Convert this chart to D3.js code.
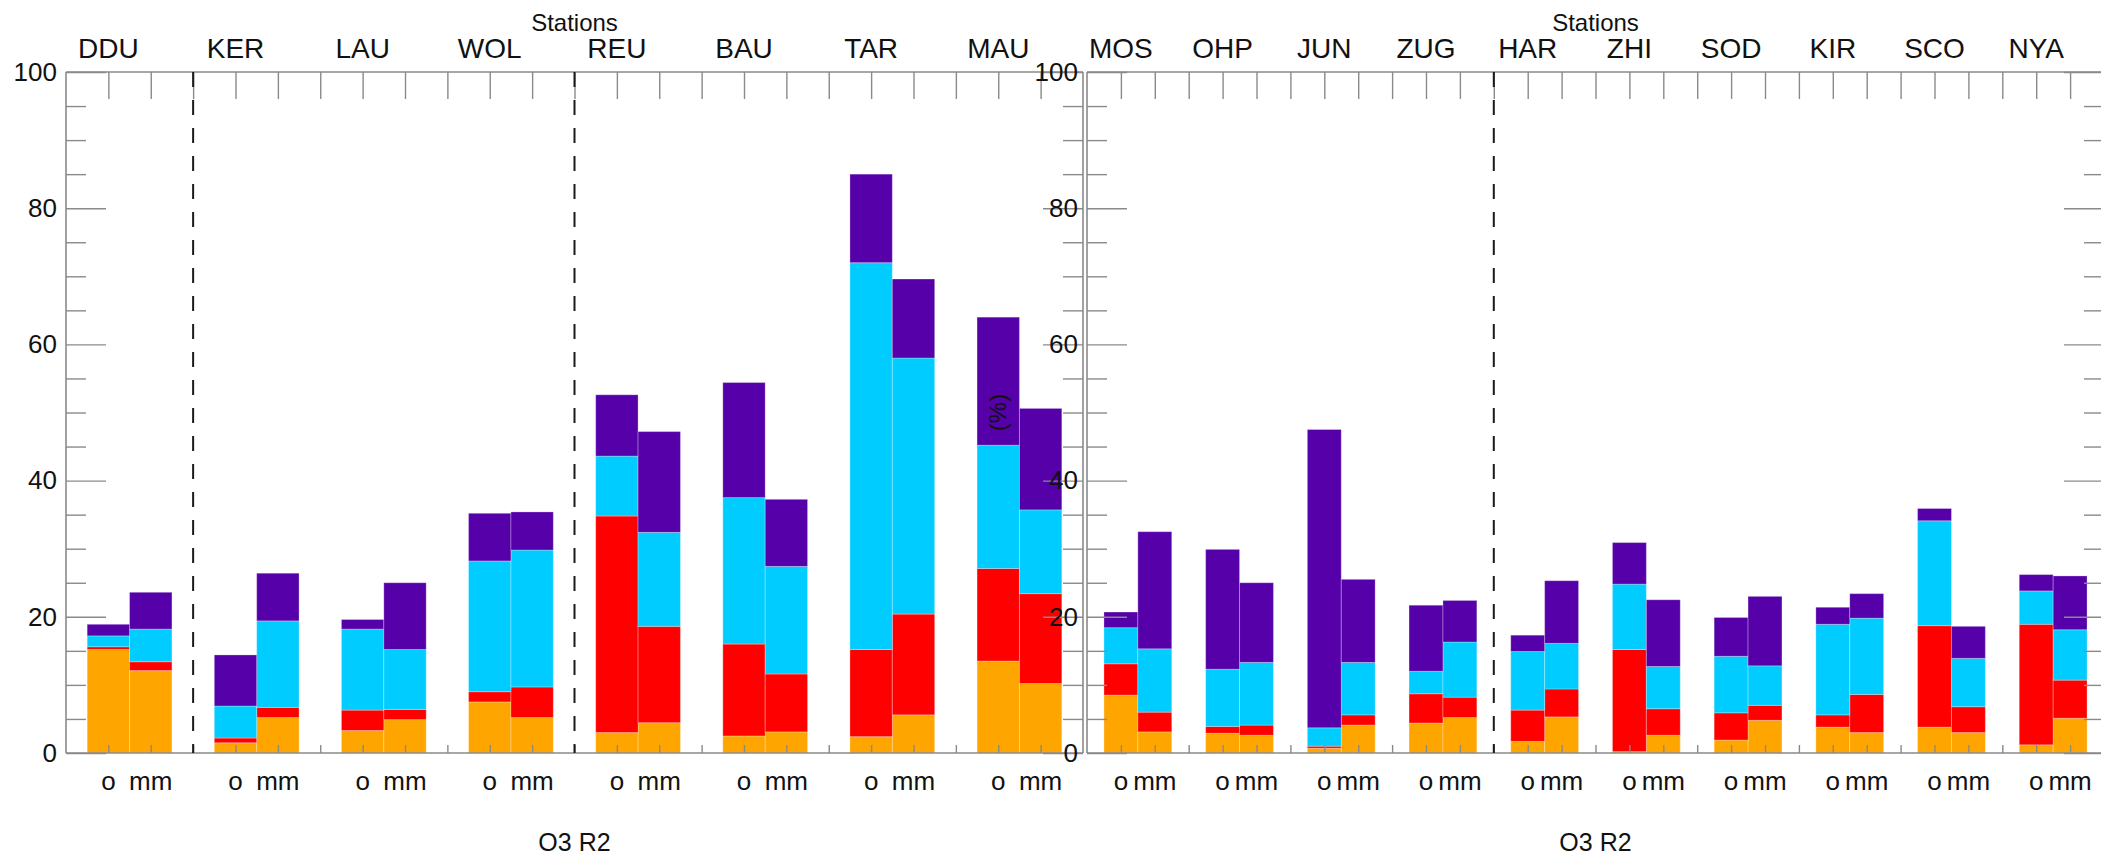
<!DOCTYPE html>
<html><head><meta charset="utf-8">
<script src="https://cdn.jsdelivr.net/npm/d3@7"></script>
<style>
body{margin:0;background:#fff}
svg{display:block}
text{font-family:"Liberation Sans",Arial,Helvetica,sans-serif;fill:#111}
</style>
</head><body>
<svg id="chart" width="2101" height="856"></svg>
<script>
// ---------------- data ----------------
const stationsLeft  = ["DDU","KER","LAU","WOL","REU","BAU","TAR","MAU"];
const stationsRight = ["MOS","OHP","JUN","ZUG","HAR","ZHI","SOD","KIR","SCO","NYA"];
const dashedBeforeLeft  = ["KER","REU"];
const dashedBeforeRight = ["HAR"];
const barKinds = ["o","mm"];
const yMajorTicks = [0,20,40,60,80,100];
const yMinorTicks = [5,10,15,25,30,35,45,50,55,65,70,75,85,90,95];
const topTitle = "Stations";
const bottomTitle = "O3 R2";
const yTitle = "(%)";
const componentKeys = ["orange","red","cyan","purple"];

// order: DDU KER LAU WOL REU BAU TAR MAU | MOS OHP JUN ZUG HAR ZHI SOD KIR SCO NYA
const orangeObs = [15.2, 1.5, 3.3, 7.5, 3.0, 2.5, 2.4,13.5,  8.5, 2.9, 0.7, 4.4, 1.7, 0.2, 1.9, 3.8, 3.8, 1.2];
const redObs    = [ 0.4, 0.7, 3.0, 1.5,31.8,13.5,12.8,13.6,  4.6, 1.0, 0.3, 4.3, 4.6,15.0, 4.0, 1.8,14.9,17.7];
const cyanObs   = [ 1.6, 4.7,11.9,19.2, 8.8,21.5,56.8,18.1,  5.3, 8.4, 2.7, 3.3, 8.6, 9.6, 8.3,13.3,15.4, 4.9];
const purpleObs = [ 1.7, 7.5, 1.4, 7.0, 9.0,16.9,13.0,18.8,  2.3,17.6,43.8, 9.7, 2.4, 6.1, 5.7, 2.5, 1.8, 2.4];

const orangeMod = [12.1, 5.2, 4.9, 5.2, 4.45,3.1, 5.6,10.2,  3.1, 2.6, 4.1, 5.2, 5.3, 2.6, 4.8, 3.0, 3.0, 5.1];
const redMod    = [ 1.3, 1.5, 1.5, 4.5,14.15,8.5,14.8,13.2,  2.9, 1.5, 1.5, 3.0, 4.1, 3.9, 2.2, 5.6, 3.8, 5.6];
const cyanMod   = [ 4.8,12.7, 8.8,20.1,13.8,15.8,37.6,12.3,  9.3, 9.2, 7.7, 8.1, 6.7, 6.2, 5.8,11.2, 7.1, 7.4];
const purpleMod = [ 5.4, 7.0, 9.8, 5.6,14.8,9.85,11.6,14.9, 17.2,11.7,12.2, 6.1, 9.2, 9.8,10.2, 3.6, 4.7, 7.9];

const colors = {orange:"#FFA500", red:"#FF0000", cyan:"#00CCFF", purple:"#5500A8"};

// ---------------- build rows ----------------
const allStations = stationsLeft.concat(stationsRight);
const rows = [];
allStations.forEach((s,i)=>{
  rows.push({station:s, kind:"o",  orange:orangeObs[i], red:redObs[i], cyan:cyanObs[i], purple:purpleObs[i]});
  rows.push({station:s, kind:"mm", orange:orangeMod[i], red:redMod[i], cyan:cyanMod[i], purple:purpleMod[i]});
});
const stacked = d3.stack().keys(componentKeys)(rows);

// ---------------- layout ----------------
const svg = d3.select("#chart");
const yTop = 72, yBot = 753;
const y = d3.scaleLinear().domain([0,100]).range([yBot,yTop]);
const axisColor = "#8a8a8a";

const panels = [
  {stations: stationsLeft,  x0: 66,   w: 1017, dashed: dashedBeforeLeft,  yTitleShown:false},
  {stations: stationsRight, x0: 1087, w: 1017, dashed: dashedBeforeRight, yTitleShown:true}
];

panels.forEach(p=>{
  const g = svg.append("g");
  const xs = d3.scaleBand().domain(p.stations).range([p.x0, p.x0+p.w]).padding(0);
  const xb = d3.scaleBand().domain(barKinds).range([0, xs.bandwidth()]).paddingInner(0).paddingOuter(0.5);
  const n = p.stations.length;
  const xt = d3.scaleLinear().domain([0, n*3]).range([p.x0, p.x0+p.w]);

  // bars
  stacked.forEach(layer=>{
    g.append("g").selectAll("rect")
      .data(layer.filter(d=>p.stations.includes(d.data.station)))
      .join("rect")
      .attr("x", d=>xs(d.data.station)+xb(d.data.kind))
      .attr("width", xb.bandwidth())
      .attr("y", d=>y(d[1]))
      .attr("height", d=>Math.max(0, y(d[0])-y(d[1])))
      .attr("fill", colors[layer.key])
      .attr("stroke","rgba(255,255,255,0.28)")
      .attr("stroke-width",1);
  });

  // frame lines
  const frame = g.append("g").attr("stroke",axisColor).attr("stroke-width",1.6).attr("fill","none");
  frame.append("line").attr("x1",p.x0).attr("x2",p.x0+p.w).attr("y1",yTop).attr("y2",yTop);
  frame.append("line").attr("x1",p.x0).attr("x2",p.x0+p.w).attr("y1",yBot).attr("y2",yBot);
  frame.append("line").attr("x1",p.x0).attr("x2",p.x0).attr("y1",yTop).attr("y2",yBot);
  frame.append("line").attr("x1",p.x0+p.w).attr("x2",p.x0+p.w).attr("y1",yTop).attr("y2",yBot);

  // y ticks (inward) via d3 axes
  function tickAxis(gen, x, vals, size){
    const a = g.append("g").attr("transform",`translate(${x},0)`)
      .call(gen(y).tickValues(vals).tickSize(size).tickFormat(""));
    a.select(".domain").remove();
    a.selectAll("line").attr("stroke",axisColor).attr("stroke-width",1.4);
  }
  tickAxis(d3.axisRight, p.x0, yMajorTicks, 40);
  tickAxis(d3.axisRight, p.x0, yMinorTicks, 20);
  tickAxis(d3.axisLeft, p.x0+p.w, yMajorTicks, 40);
  tickAxis(d3.axisLeft, p.x0+p.w, yMinorTicks, 20);

  // x ticks top & bottom at thirds
  const xv = d3.range(1, n*3);
  const top = g.append("g").attr("transform",`translate(0,${yTop})`)
    .call(d3.axisBottom(xt).tickValues(xv).tickSize(27).tickFormat(""));
  top.select(".domain").remove();
  top.selectAll("line").attr("stroke",axisColor).attr("stroke-width",1.4);
  const bot = g.append("g").attr("transform",`translate(0,${yBot})`)
    .call(d3.axisTop(xt).tickValues(xv).tickSize(8).tickFormat(""));
  bot.select(".domain").remove();
  bot.selectAll("line").attr("stroke",axisColor).attr("stroke-width",1.4);

  // dashed separators
  g.selectAll("line.sep").data(p.dashed).join("line")
    .attr("class","sep")
    .attr("x1",d=>xs(d)).attr("x2",d=>xs(d))
    .attr("y1",yTop).attr("y2",yBot)
    .attr("stroke","#1a1a1a").attr("stroke-width",2)
    .attr("stroke-dasharray","15,13");

  // station labels
  g.selectAll("text.st").data(p.stations).join("text")
    .attr("class","st")
    .attr("x",d=>xs(d)+xs.bandwidth()/3)
    .attr("y",58)
    .attr("text-anchor","middle")
    .attr("font-size",28)
    .text(d=>d);

  // bar kind labels
  const kl = [];
  p.stations.forEach(s=>barKinds.forEach(k=>kl.push({s,k})));
  g.selectAll("text.kind").data(kl).join("text")
    .attr("class","kind")
    .attr("x",d=>xs(d.s)+xb(d.k)+xb.bandwidth()/2)
    .attr("y",790)
    .attr("text-anchor","middle")
    .attr("font-size",26)
    .text(d=>d.k);

  // titles
  g.append("text").attr("x",p.x0+p.w/2).attr("y",31).attr("text-anchor","middle")
    .attr("font-size",24).text(topTitle);
  g.append("text").attr("x",p.x0+p.w/2).attr("y",851).attr("text-anchor","middle")
    .attr("font-size",25).text(bottomTitle);

  // y labels
  const yl = g.append("g").attr("transform",`translate(${p.x0},0)`)
    .call(d3.axisLeft(y).tickValues(yMajorTicks).tickSize(0).tickPadding(9));
  yl.select(".domain").remove();
  yl.selectAll("text").attr("font-size",26).style("font-family","'Liberation Sans',Arial,sans-serif").attr("fill","#111");

  if (p.yTitleShown){
    g.append("text")
      .attr("transform",`translate(${p.x0-90},${(yTop+yBot)/2}) rotate(-90)`)
      .attr("text-anchor","middle")
      .attr("dominant-baseline","central")
      .attr("font-size",24)
      .text(yTitle);
  }
});
</script>
</body></html>
